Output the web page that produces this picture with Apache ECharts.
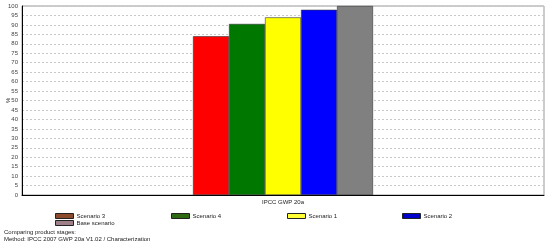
<!DOCTYPE html>
<html>
<head>
<meta charset="utf-8">
<script src="https://cdn.jsdelivr.net/npm/echarts@6/dist/echarts.min.js"></script>
<style>
html,body{margin:0;padding:0;background:#fff;}
#chart{width:550px;height:246px;}
</style>
</head>
<body>
<div id="chart"></div>
<script>
// 数据
var categories = ['IPCC GWP 20a'];
var seriesNames = ['Scenario 3', 'Scenario 4', 'Scenario 1', 'Scenario 2', 'Base scenario'];
var seriesValues = [84, 90.5, 94, 98, 100];
var barColors = ['#ff0000', '#007800', '#ffff00', '#0000ff', '#808080'];
var legendColors = ['#8b4a2b', '#2f6a12', '#ffff33', '#0000cc', '#a08088'];
var footText = ['Comparing product stages:', 'Method: IPCC 2007 GWP 20a V1.02 / Characterization'];

var chart = echarts.init(document.getElementById('chart'));
var font = 'Liberation Sans';

var series = [];
for (var i = 0; i < seriesNames.length; i++) {
	series.push({
		name: seriesNames[i],
		type: 'bar',
		barWidth: 36,
		barGap: '0%',
		data: [seriesValues[i]],
		itemStyle: {color: barColors[i], borderColor: '#333', borderWidth: 0.6},
		emphasis: {disabled: true}
	});
}

// 图例位置
var legendPos = {
	'Scenario 3': [55, 213],
	'Base scenario': [55, 220],
	'Scenario 4': [171, 213],
	'Scenario 1': [287, 213],
	'Scenario 2': [402, 213]
};
var legends = [];
for (var j = 0; j < seriesNames.length; j++) {
	var nm = seriesNames[j];
	legends.push({
		left: legendPos[nm][0],
		top: legendPos[nm][1],
		padding: 0,
		itemWidth: 18,
		itemHeight: 5,
		itemGap: 0,
		selectedMode: false,
		icon: 'rect',
		textStyle: {fontSize: 6, fontFamily: font, color: '#222', padding: [0, 0, 0, -2]},
		data: [{name: nm, itemStyle: {color: legendColors[j], borderColor: '#222', borderWidth: 1}}]
	});
}

var option = {
	animation: false,
	grid: {left: 22, right: 6, top: 6, bottom: 51, show: true, borderColor: '#999', borderWidth: 1,
		containLabel: false, outerBoundsMode: 'none'},
	legend: legends,
	xAxis: {
		type: 'category',
		data: categories,
		axisLine: {lineStyle: {color: '#000', width: 1}},
		axisTick: {show: false},
		axisLabel: {fontSize: 6, fontFamily: font, color: '#222', margin: 4}
	},
	yAxis: {
		type: 'value',
		min: 0,
		max: 100,
		interval: 5,
		axisLine: {show: true, lineStyle: {color: '#000', width: 1}},
		axisTick: {show: false},
		axisLabel: {fontSize: 6, fontFamily: font, color: '#444', margin: 4},
		splitLine: {lineStyle: {color: '#c8c8c8', type: [2, 2], width: 1}}
	},
	graphic: [{
		type: 'text',
		left: 4,
		top: 229,
		style: {text: footText.join('\n'), fontSize: 6, fontFamily: font, fill: '#222', lineHeight: 7}
	}, {
		type: 'text',
		x: 5,
		y: 103,
		rotation: Math.PI / 2,
		style: {text: '%', fontSize: 6, fontFamily: font, fill: '#222'}
	}],
	series: series
};

chart.setOption(option);
</script>
</body>
</html>
